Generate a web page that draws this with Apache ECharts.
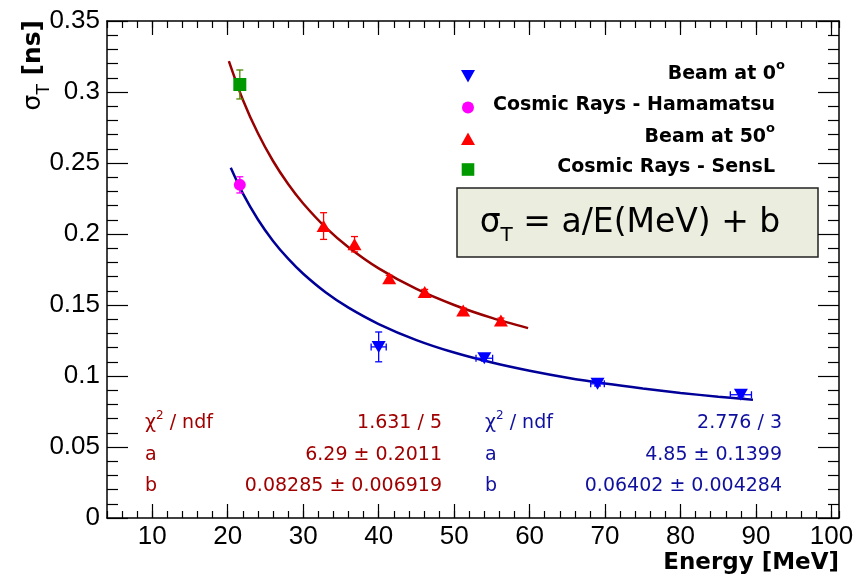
<!DOCTYPE html>
<html><head><meta charset="utf-8">
<script src="https://cdn.jsdelivr.net/npm/echarts@6/dist/echarts.min.js"></script>
<style>html,body{margin:0;padding:0;background:#fff}#c{width:858px;height:578px}</style>
</head><body><div id="c"></div>
<script>
// ---- tick labels ----
const xMajorTicks = [10, 20, 30, 40, 50, 60, 70, 80, 90, 100];
const yTickValues = [0, 0.05, 0.1, 0.15, 0.2, 0.25, 0.3, 0.35];
const yTickLabels = ['0', '0.05', '0.1', '0.15', '0.2', '0.25', '0.3', '0.35'];

// ---- Beam at 0 deg (blue, down triangles) ----
const beam0E = [40, 54, 69, 88];
const beam0Sigma = [0.1205, 0.1125, 0.0945, 0.0868];
const beam0SigmaErr = [0.0105, 0.002, 0.0015, 0.0015];
const beam0EErr = [1.0, 1.1, 0.9, 1.4];

// ---- Cosmic Rays - Hamamatsu (magenta circle) ----
const hamaE = [21.6];
const hamaSigma = [0.2346];
const hamaSigmaErr = [0.0057];

// ---- Beam at 50 deg (red, up triangles) ----
const beam50E = [32.7, 36.8, 41.4, 46.1, 51.2, 56.2];
const beam50Sigma = [0.2056, 0.1928, 0.1689, 0.1592, 0.1461, 0.139];
const beam50SigmaErr = [0.0094, 0.0054, 0.002, 0.0018, 0.0018, 0.0018];

// ---- Cosmic Rays - SensL (green square) ----
const senslE = [21.6];
const senslSigma = [0.3053];
const senslSigmaErr = [0.0102];

// ---- fit curves ----
const redFitE = [20.15, 22, 24, 26, 28, 30, 33, 36, 40, 45, 50, 55, 59.8];
const redFitSigma = [0.3218, 0.2946, 0.2709, 0.2514, 0.2352, 0.2215, 0.2045, 0.1907, 0.1758, 0.1613, 0.1500, 0.1409, 0.1337];
const blueFitE = [20.4, 22, 24, 26, 28, 30, 33, 36, 40, 45, 50, 55, 60, 65, 70, 75, 80, 85, 89.6];
const blueFitSigma = [0.2466, 0.2286, 0.2102, 0.1951, 0.1826, 0.1720, 0.1588, 0.1481, 0.1366, 0.1253, 0.1165, 0.1095, 0.1037, 0.0988, 0.0947, 0.0912, 0.0881, 0.0854, 0.0832];

// ---- fit results text ----
const redStatLabels = ['/ ndf', 'a', 'b'];
const redStatValues = ['1.631 / 5', '6.29 \u00b1 0.2011', '0.08285 \u00b1 0.006919'];
const blueStatLabels = ['/ ndf', 'a', 'b'];
const blueStatValues = ['2.776 / 3', '4.85 \u00b1 0.1399', '0.06402 \u00b1 0.004284'];

const RED = '#ff0000', BLUE = '#0000ff', MAG = '#ff00ff', GREEN = '#009900';
const RED_TXT = '#a00000', BLUE_TXT = '#10109e';
const DJ = '"DejaVu Sans", sans-serif';
const LIB = '"Liberation Sans", Arial, sans-serif';

function zip(xs, ys, eys, exs) {
  return xs.map((x, i) => [x, ys[i], eys ? eys[i] : 0, exs ? exs[i] : 0]);
}

function errRender(color) {
  return function (params, api) {
    const x = api.value(0), y = api.value(1), ey = api.value(2), ex = api.value(3);
    const c = api.coord([x, y]);
    const st = { stroke: color, lineWidth: 1.3 };
    const ch = [];
    if (ey > 0) {
      const t = api.coord([x, y + ey]), b = api.coord([x, y - ey]);
      ch.push({ type: 'line', shape: { x1: c[0], y1: t[1], x2: c[0], y2: b[1] }, style: st });
      ch.push({ type: 'line', shape: { x1: c[0] - 3.5, y1: t[1], x2: c[0] + 3.5, y2: t[1] }, style: st });
      ch.push({ type: 'line', shape: { x1: c[0] - 3.5, y1: b[1], x2: c[0] + 3.5, y2: b[1] }, style: st });
    }
    if (ex > 0) {
      const l = api.coord([x - ex, y]), r = api.coord([x + ex, y]);
      ch.push({ type: 'line', shape: { x1: l[0], y1: c[1], x2: r[0], y2: c[1] }, style: st });
      ch.push({ type: 'line', shape: { x1: l[0], y1: c[1] - 3.5, x2: l[0], y2: c[1] + 3.5 }, style: st });
      ch.push({ type: 'line', shape: { x1: r[0], y1: c[1] - 3.5, x2: r[0], y2: c[1] + 3.5 }, style: st });
    }
    return { type: 'group', children: ch };
  };
}

const chart = echarts.init(document.getElementById('c'), null, { renderer: 'canvas' });

const xBase = { type: 'value', min: 4, max: 101, splitLine: { show: false }, gridIndex: 0 };
const yBase = { type: 'value', min: 0, max: 0.35, interval: 0.05, splitLine: { show: false } };
const tickLine = { color: '#000', width: 1.2 };

const graphics = [];
// legend
const legendRows = [
  { y: 76, sym: 'tri-down', color: BLUE, text: '{m|Beam at 0}{s|o}', right: 785 },
  { y: 107.5, sym: 'circle', color: MAG, text: '{m|Cosmic Rays - Hamamatsu}', right: 775 },
  { y: 139, sym: 'tri-up', color: RED, text: '{m|Beam at 50}{s|o}', right: 775 },
  { y: 169.5, sym: 'square', color: GREEN, text: '{m|Cosmic Rays - SensL}', right: 775 }
];
legendRows.forEach(r => {
  const cx = 468;
  if (r.sym === 'tri-down') graphics.push({ type: 'polygon', shape: { points: [[cx - 7, r.y - 6], [cx + 7, r.y - 6], [cx, r.y + 6.5]] }, style: { fill: r.color } });
  if (r.sym === 'tri-up') graphics.push({ type: 'polygon', shape: { points: [[cx - 7, r.y + 6], [cx + 7, r.y + 6], [cx, r.y - 6.5]] }, style: { fill: r.color } });
  if (r.sym === 'circle') graphics.push({ type: 'circle', shape: { cx: cx, cy: r.y, r: 6 }, style: { fill: r.color } });
  if (r.sym === 'square') graphics.push({ type: 'rect', shape: { x: cx - 6.3, y: r.y - 6.3, width: 12.6, height: 12.6 }, style: { fill: r.color } });
  graphics.push({
    type: 'text', x: r.right, y: r.y - 2,
    style: {
      text: r.text, align: 'right', verticalAlign: 'middle', fill: '#000',
      rich: {
        m: { fontFamily: DJ, fontWeight: 'bold', fontSize: 19, lineHeight: 30 },
        s: { fontFamily: DJ, fontWeight: 'bold', fontSize: 13, lineHeight: 13, verticalAlign: 'top' }
      }
    }
  });
});

// formula box
graphics.push({ type: 'rect', shape: { x: 457, y: 188, width: 361, height: 69 }, style: { fill: '#ebeddf', stroke: '#222', lineWidth: 1.5 } });
graphics.push({
  type: 'text', x: 630, y: 223,
  style: {
    text: '{m|\u03c3}{t|T}{m| = a/E(MeV) + b}', align: 'center', verticalAlign: 'middle', fill: '#000',
    rich: {
      m: { fontFamily: DJ, fontSize: 33, lineHeight: 46 },
      t: { fontFamily: DJ, fontSize: 20, lineHeight: 20, verticalAlign: 'bottom' }
    }
  }
});

// stats boxes
const statRows = [423, 455, 486];
function addStats(labels, values, leftX, rightX, color) {
  labels.forEach((lab, i) => {
    let txt = i === 0 ? '{m|\u03c7}{s|2}{m| ' + lab + '}' : '{m|' + lab + '}';
    graphics.push({
      type: 'text', x: leftX, y: statRows[i],
      style: {
        text: txt, align: 'left', verticalAlign: 'middle', fill: color,
        rich: {
          m: { fontFamily: DJ, fontSize: 19, lineHeight: 26, fill: color },
          s: { fontFamily: DJ, fontSize: 12, lineHeight: 12, verticalAlign: 'top', fill: color }
        }
      }
    });
    graphics.push({
      type: 'text', x: rightX, y: statRows[i],
      style: { text: values[i], align: 'right', verticalAlign: 'middle', fill: color, fontFamily: DJ, fontSize: 19 }
    });
  });
}
addStats(redStatLabels, redStatValues, 145, 442, RED_TXT);
addStats(blueStatLabels, blueStatValues, 485, 782, BLUE_TXT);

// axis titles
graphics.push({
  type: 'text', x: 839, y: 563,
  style: { text: 'Energy [MeV]', align: 'right', verticalAlign: 'middle', fill: '#000', fontFamily: DJ, fontWeight: 'bold', fontSize: 23 }
});
graphics.push({
  type: 'text', x: 33, y: 20, rotation: Math.PI / 2,
  style: {
    text: '{m|\u03c3}{t|T}{b| [ns]}', align: 'right', verticalAlign: 'middle', fill: '#000',
    rich: {
      m: { fontFamily: DJ, fontSize: 25, lineHeight: 40 },
      b: { fontFamily: DJ, fontSize: 25, fontWeight: 'bold', lineHeight: 40 },
      t: { fontFamily: DJ, fontSize: 17, lineHeight: 17, verticalAlign: 'bottom' }
    }
  }
});

const option = {
  animation: false,
  backgroundColor: '#fff',
  grid: { left: 107, top: 21, right: 19, bottom: 60, containLabel: false, outerBoundsMode: 'none' },
  xAxis: [
    Object.assign({}, xBase, {
      position: 'bottom',
      axisLine: { show: true, onZero: false, lineStyle: { color: '#000', width: 1.5 } },
      axisTick: { show: true, inside: true, length: 14, customValues: xMajorTicks, lineStyle: tickLine },
      axisLabel: { show: true, customValues: xMajorTicks, fontFamily: LIB, fontSize: 26, color: '#000', margin: 6 }
    }),
    Object.assign({}, xBase, {
      position: 'bottom', interval: 2,
      axisLine: { show: false, onZero: false },
      axisTick: { show: true, inside: true, length: 7, lineStyle: tickLine },
      axisLabel: { show: false }
    }),
    Object.assign({}, xBase, {
      position: 'top',
      axisLine: { show: true, onZero: false, lineStyle: { color: '#000', width: 1.5 } },
      axisTick: { show: true, inside: true, length: 14, customValues: xMajorTicks, lineStyle: tickLine },
      axisLabel: { show: false }
    }),
    Object.assign({}, xBase, {
      position: 'top', interval: 2,
      axisLine: { show: false, onZero: false },
      axisTick: { show: true, inside: true, length: 7, lineStyle: tickLine },
      axisLabel: { show: false }
    })
  ],
  yAxis: [
    Object.assign({}, yBase, {
      position: 'left',
      axisLine: { show: true, onZero: false, lineStyle: { color: '#000', width: 1.5 } },
      axisTick: { show: true, inside: true, length: 21, lineStyle: tickLine },
      minorTick: { show: true, splitNumber: 5, length: 11, lineStyle: tickLine },
      axisLabel: {
        show: true, fontFamily: LIB, fontSize: 26, color: '#000', margin: 7, padding: [5, 0, 0, 0],
        formatter: v => { const i = yTickValues.findIndex(t => Math.abs(t - v) < 1e-9); return i >= 0 ? yTickLabels[i] : ''; }
      }
    }),
    Object.assign({}, yBase, {
      position: 'right',
      axisLine: { show: true, onZero: false, lineStyle: { color: '#000', width: 1.5 } },
      axisTick: { show: true, inside: true, length: 21, lineStyle: tickLine },
      minorTick: { show: true, splitNumber: 5, length: 11, lineStyle: tickLine },
      axisLabel: { show: false }
    })
  ],
  series: [
    { type: 'line', name: 'fit0', data: blueFitE.map((e, i) => [e, blueFitSigma[i]]), smooth: 0.3, showSymbol: false, symbol: 'none', lineStyle: { color: '#000099', width: 2.5 }, z: 2 },
    { type: 'line', name: 'fit50', data: redFitE.map((e, i) => [e, redFitSigma[i]]), smooth: 0.3, showSymbol: false, symbol: 'none', lineStyle: { color: '#990000', width: 2.5 }, z: 2 },
    { type: 'custom', renderItem: errRender(BLUE), data: zip(beam0E, beam0Sigma, beam0SigmaErr, beam0EErr), encode: { x: 0, y: 1 }, z: 3 },
    { type: 'custom', renderItem: errRender(RED), data: zip(beam50E, beam50Sigma, beam50SigmaErr, null), encode: { x: 0, y: 1 }, z: 3 },
    { type: 'custom', renderItem: errRender(MAG), data: zip(hamaE, hamaSigma, hamaSigmaErr, null), encode: { x: 0, y: 1 }, z: 3 },
    { type: 'custom', renderItem: errRender('#4d8a00'), data: zip(senslE, senslSigma, senslSigmaErr, null), encode: { x: 0, y: 1 }, z: 3 },
    { type: 'scatter', name: 'Beam at 0', data: beam0E.map((e, i) => [e, beam0Sigma[i]]), symbol: 'triangle', symbolRotate: 180, symbolSize: [14, 12], itemStyle: { color: BLUE, opacity: 1 }, z: 4 },
    { type: 'scatter', name: 'Cosmic Rays - Hamamatsu', data: hamaE.map((e, i) => [e, hamaSigma[i]]), symbol: 'circle', symbolSize: 12, itemStyle: { color: MAG, opacity: 1 }, z: 4 },
    { type: 'scatter', name: 'Beam at 50', data: beam50E.map((e, i) => [e, beam50Sigma[i]]), symbol: 'triangle', symbolSize: [14, 12], itemStyle: { color: RED, opacity: 1 }, z: 4 },
    { type: 'scatter', name: 'Cosmic Rays - SensL', data: senslE.map((e, i) => [e, senslSigma[i]]), symbol: 'rect', symbolSize: 13, itemStyle: { color: GREEN, opacity: 1 }, z: 4 }
  ],
  graphic: { elements: graphics }
};
chart.setOption(option);
</script>
</body></html>
